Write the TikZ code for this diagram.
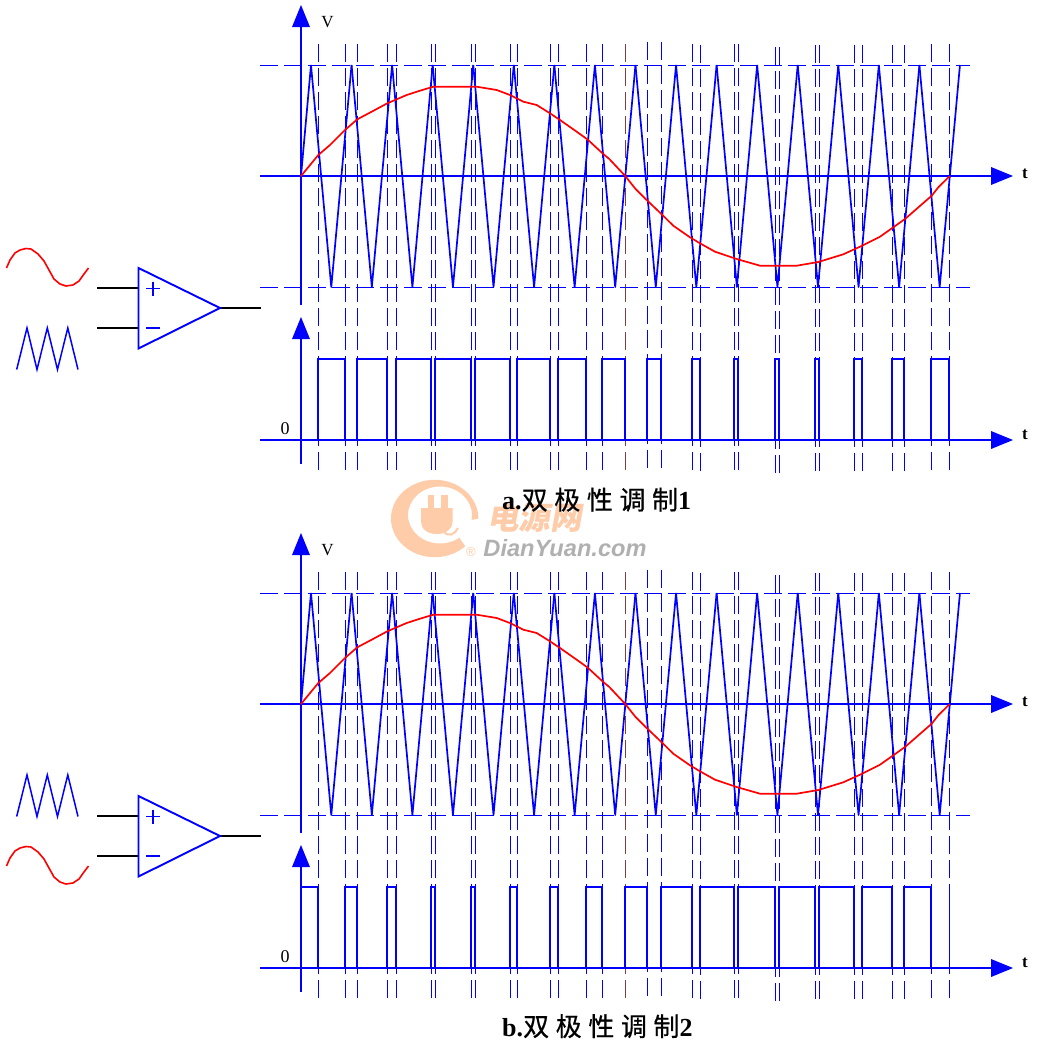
\documentclass[tikz,border=0pt]{standalone}
\usepackage{fontspec}
\setmainfont{Liberation Serif}
\newfontfamily\cjkfont{Noto Sans CJK SC}
\newfontfamily\cjkcap[FakeBold=0.5]{Noto Sans CJK SC}
\newfontfamily\wmlatin{Liberation Sans}
\definecolor{pureblue}{RGB}{0,0,255}
\definecolor{purered}{RGB}{255,0,0}
\definecolor{brownline}{RGB}{128,64,64}
\definecolor{wmorange}{RGB}{255,204,170}
\definecolor{wmgray}{RGB}{176,176,176}
\tikzset{
  axisline/.style={draw=pureblue,line width=2pt},
  axishead/.style={fill=pureblue,draw=none},
  tri/.style={draw=pureblue,line width=1.7pt,line join=round},
  sinecurve/.style={draw=purered,line width=1.7pt,line join=round,line cap=round},
  vdash/.style={draw=pureblue,line width=1pt,dash pattern=on 18pt off 6pt},
  hdash/.style={draw=pureblue,line width=1pt,dash pattern=on 18pt off 6pt},
  pulse/.style={draw=pureblue,line width=2pt,line join=miter},
  wire/.style={draw=black,line width=2pt},
  ampbody/.style={draw=pureblue,line width=1.9pt,line join=miter},
  sign/.style={draw=pureblue,line width=1.9pt},
  srcsine/.style={draw=purered,line width=1.6pt,line join=round},
  srctri/.style={draw=pureblue,line width=1.5pt},
  axlabel/.style={inner sep=0pt,font=\fontsize{17}{17}\selectfont},
  taxlabel/.style={inner sep=0pt,font=\fontsize{17}{17}\selectfont\bfseries},
  caption/.style={inner sep=0pt,anchor=base west,font=\fontsize{26}{26}\selectfont\bfseries},
}
\newcommand{\capzh}{{\cjkcap\mdseries 双\hspace{6.6pt}极\hspace{6.6pt}性\hspace{6.6pt}调\hspace{6.6pt}制}}
\newcommand{\drawpanel}[2]{%
  \begin{scope}[yshift=#1]
    % dashed verticals
    \foreach \x/\b in {318.5/470,345.5/470,357.5/470,387.5/470,396.5/470,431.5/470,435.5/470,471.5/470,475.5/470,510.5/470,517.5/470,550.5/470,558.5/470,586.5/470,602.5/470,647.5/468,661.5/468,692.5/470,700.5/471,734.5/470,738.5/470,775.5/473,779.5/473,815.5/470.7,819.5/470.7,854.5/470.7,862.5/470.7,892.5/470.7,904.5/470.7,931.5/470,949.5/470}
      {\draw[vdash] (\x,\b) -- (\x,{\b-426});}
    \draw[vdash,draw=brownline] (625.5,470) -- (625.5,44);
    % dashed levels
    \draw[hdash] (260,65.5) -- (970,65.5);
    \draw[hdash] (260,287.5) -- (970,287.5);
    % carrier
    \draw[tri] (301,176) -- (311,65);
    \foreach \k in {0,...,15}{
      \pgfmathsetmacro\pa{311+40.56*\k}
      \pgfmathsetmacro\pb{\pa+20.28}
      \pgfmathsetmacro\pc{\pa+40.56}
      \draw[tri] (\pa,65) -- (\pb,287) -- (\pc,65);
    }
    % axes
    \draw[axisline] (260,176) -- (992,176);
    \draw[axisline] (301,305) -- (301,26);
    \fill[axishead] (301,5) -- (310,27) -- (292,27) -- cycle;
    \fill[axishead] (1013,176) -- (991,167) -- (991,185) -- cycle;
    % modulating wave
    \draw[sinecurve] (301,176) -- (318.3,155) -- (330,145) -- (345,130) -- (357.3,119.3) -- (373,111) -- (387.3,103.3) -- (406.7,95) -- (420,90.7) -- (433.3,86.7) -- (476.7,86.7) -- (496.7,90) -- (510,95) -- (523.3,101.7) -- (536.7,105) -- (550,113.3) -- (560,120) -- (576.7,131.7) -- (587.3,139.3) -- (603.3,154) -- (609.3,159) -- (625,175.7) -- (635,188.3) -- (646.7,200) -- (661.7,214.3) -- (673.3,225.7) -- (690,237.3) -- (700,243.3) -- (715,251.7) -- (736.7,259) -- (760,265.7) -- (796.7,265.7) -- (818.3,262) -- (843.3,254.3) -- (860,246.7) -- (880,236.7) -- (905,219) -- (931.7,195.7) -- (938.3,187.3) -- (949.3,176.5);
    % output axes
    \draw[axisline] (260,440) -- (992,440);
    \draw[axisline] (301,464) -- (301,338);
    \fill[axishead] (301,317) -- (310,339) -- (292,339) -- cycle;
    \fill[axishead] (1013,440) -- (991,431) -- (991,449) -- cycle;
    % pulses
    #2
    % labels
    \node[axlabel] (v) at (327.5,22.5) {V};
    \node[axlabel,font=\fontsize{18}{18}\selectfont] (zero) at (285,429) {0};
    \node[taxlabel] (t1) at (1025,174) {t};
    \node[taxlabel] (t2) at (1025,435) {t};
  \end{scope}}
\newcommand{\drawamp}[3]{%
  % #1 shift, #2 = sine source shift, #3 = triangle source shift
  \begin{scope}[yshift=#1]
    \coordinate (ampA) at (138.5,268);
    \coordinate (ampB) at (138.5,348.5);
    \coordinate (ampC) at (220,308);
    \coordinate (inP) at (97,288);
    \coordinate (inM) at (97,328);
    \coordinate (jP) at (138.5,288);
    \coordinate (jM) at (138.5,328);
    \coordinate (out) at (261,308);
    \draw[wire] (inP) -- (jP);
    \draw[wire] (inM) -- (jM);
    \draw[wire] (ampC) -- (out);
    \draw[ampbody] (ampA) -- (ampB) -- (ampC) -- cycle;
    \draw[sign] (146,288.5) -- (160,288.5);
    \draw[sign] (153,281.5) -- (153,295.5);
    \draw[sign] (146,328) -- (160,328);
  \end{scope}
  \begin{scope}[yshift=#2]
    \draw[srcsine] (6.5,268) -- (10,260) -- (15,253) -- (20,250) -- (26,248.5) -- (31,249) -- (38,254) -- (44,261) -- (49,270) -- (54,279) -- (60,284) -- (66,286) -- (73,285) -- (79,281) -- (84,274) -- (88.5,268);
  \end{scope}
  \begin{scope}[yshift=#3]
    \draw[srctri] (16.7,369.5) -- (27,328) -- (37,369.5) -- (47.3,328) -- (57.5,369.5) -- (67.8,328) -- (78,369.5);
  \end{scope}}
\begin{document}
\begin{tikzpicture}[x=1pt,y=-1pt]
\useasboundingbox (0,0) rectangle (1039,1045);
\fill[white] (0,0) rectangle (1039,1045);
% watermark
\fill[wmorange,even odd rule] (434.7,518.5) ellipse [x radius=43.7,y radius=38.7] (440,515) ellipse [x radius=32,y radius=28.5];
\fill[white] (450,524) -- (482,518) -- (482,552) -- (468,550) -- cycle;
\fill[wmorange] (421,508) -- (452.7,508) -- (452.7,520) .. controls (452.7,530) and (445,534) .. (437,534) .. controls (428,534) and (421,530) .. (421,520) -- cycle;
\fill[wmorange] (427.7,495) rectangle (434.3,509);
\fill[wmorange] (441,495) rectangle (447.7,509);
\draw[wmorange,line width=2pt] (444,532) .. controls (449,537) and (454,535) .. (458,528);
\node[inner sep=0pt,text=wmorange,font=\cjkfont\bfseries\fontsize{31.5}{32}\selectfont,xslant=0.18] (wmzh) at (536.5,518) {电源网};
\node[inner sep=0pt,text=wmgray,font=\wmlatin\bfseries\itshape\fontsize{23.6}{24}\selectfont] (wmen) at (565,548.5) {DianYuan.com};
\node[inner sep=0pt,text=wmorange,font=\wmlatin\fontsize{13}{13}\selectfont] (wmreg) at (471,552) {®};
% panels
\drawpanel{0pt}{%
  \foreach \a/\c in {318.3/345.3,357.3/387.3,396.3/431.3,435.3/471.3,475.3/510.3,517.3/550.3,558.3/586.3,602.3/625.3,647.3/661.3,692.3/700.3,734.3/738.3,775.3/779.3,815.3/819.3,854.3/862.3,892.3/904.3,931.3/949.3}
    {\draw[pulse] (\a,440) -- (\a,358.5) -- (\c,358.5) -- (\c,440);}}
\drawpanel{-528pt}{%
  \foreach \a/\c in {301/318.3,345.3/357.3,387.3/396.3,431.3/435.3,471.3/475.3,510.3/517.3,550.3/558.3,586.3/602.3,625.3/647.3,661.3/692.3,700.3/734.3,738.3/775.3,779.3/815.3,819.3/854.3,862.3/892.3,904.3/931.3}
    {\draw[pulse] (\a,440) -- (\a,358.5) -- (\c,358.5) -- (\c,440);}
  \draw[pulse,line width=1.4pt] (949.3,440) -- (949.3,358.5);}
% comparators and sources
\drawamp{0pt}{0pt}{0pt}
\drawamp{-528pt}{-598pt}{-447pt}
% captions
\node[caption] (capa) at (502,509.5) {a.\capzh 1};
\node[caption] (capb) at (502,1036) {b.\capzh 2};
\end{tikzpicture}
\end{document}
